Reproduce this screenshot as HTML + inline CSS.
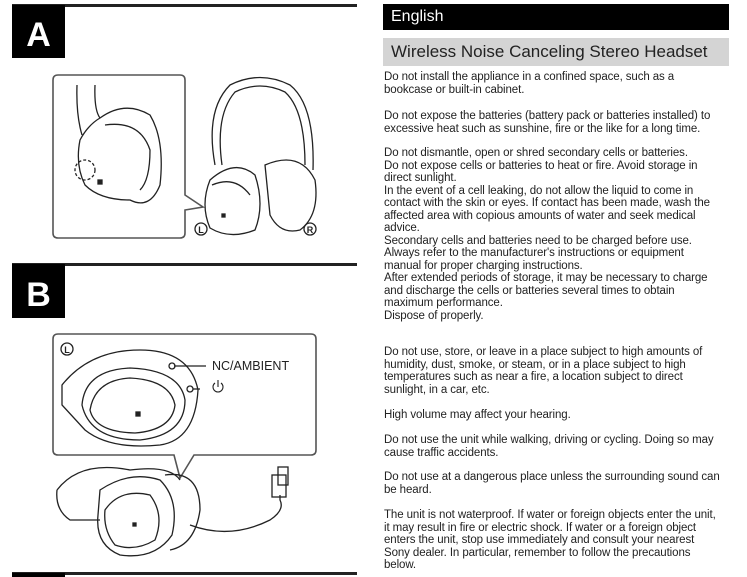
<!DOCTYPE html>
<html><head><meta charset="utf-8"><style>
body{margin:0;width:747px;height:577px;background:#fff;position:relative;overflow:hidden;font-family:"Liberation Sans",sans-serif}
.t{position:absolute;left:384px;font-size:11.5px;line-height:12px;color:#222;white-space:nowrap;letter-spacing:-0.1px}
</style></head><body>
<svg width="747" height="577" style="position:absolute;left:0;top:0" fill="none" stroke="#222" stroke-width="1.3">
<line x1="12" y1="5.5" x2="357" y2="5.5" stroke-width="3"/>
<rect x="12" y="5" width="53" height="53" fill="#000" stroke="none"/>
<text x="38.5" y="46" font-family="Liberation Sans" font-weight="bold" font-size="34" fill="#fff" stroke="none" text-anchor="middle">A</text>
<line x1="12" y1="264.5" x2="357" y2="264.5" stroke-width="3"/>
<rect x="12" y="264" width="53" height="54" fill="#000" stroke="none"/>
<text x="38.5" y="306" font-family="Liberation Sans" font-weight="bold" font-size="34" fill="#fff" stroke="none" text-anchor="middle">B</text>
<line x1="12" y1="573.5" x2="357" y2="573.5" stroke-width="3"/>
<rect x="12" y="573" width="53" height="6" fill="#000" stroke="none"/>
<path d="M58 75 H180 Q185 75 185 80 V195 L203 207 L185 210 V233 Q185 238 180 238 H58 Q53 238 53 233 V80 Q53 75 58 75Z" stroke="#555" stroke-width="1.6"/>
<path d="M77 85 Q76 115 82 135 M95 85 Q94 110 100 118"/>
<path d="M100 118 Q125 100 150 115 Q165 140 160 185 Q150 210 130 200 Q100 200 85 185 Q75 165 80 140 Q88 125 100 118Z"/>
<path d="M105 125 Q140 120 150 150 Q150 180 140 190"/>
<circle cx="85" cy="170" r="10" stroke-dasharray="3 2"/>
<rect x="98" y="180" width="4" height="4" fill="#222"/>
<path d="M215 165 Q205 110 230 85 Q260 70 290 85 Q315 105 313 170"/>
<path d="M222 165 Q215 115 235 92 Q260 80 285 92 Q305 110 305 165"/>
<path d="M265 165 Q300 150 315 180 Q320 215 300 230 Q280 235 270 215Z"/>
<path d="M210 180 Q235 158 255 175 Q265 205 255 230 Q230 240 210 228 Q200 205 210 180Z"/>
<path d="M212 185 Q235 175 250 195"/>
<rect x="222" y="214" width="3" height="3" fill="#222"/>
<circle cx="201" cy="229" r="6"/><text x="201" y="233" font-size="9" font-weight="bold" text-anchor="middle" fill="#222" stroke="none">L</text>
<circle cx="310" cy="229" r="6"/><text x="310" y="233" font-size="9" font-weight="bold" text-anchor="middle" fill="#222" stroke="none">R</text>
<path d="M58 334 H311 Q316 334 316 339 V450 Q316 455 311 455 H194 L180 478 L174 455 H58 Q53 455 53 450 V339 Q53 334 58 334Z" stroke="#555" stroke-width="1.6"/>
<circle cx="67" cy="349" r="6"/><text x="67" y="353" font-size="9" font-weight="bold" text-anchor="middle" fill="#222" stroke="none">L</text>
<path d="M62 385 Q90 350 140 350 Q190 350 198 390 Q195 440 160 445 Q110 450 85 430 L62 405Z"/>
<path d="M82 405 Q85 370 130 368 Q180 370 185 400 Q185 435 140 440 Q90 440 82 405Z"/>
<path d="M90 410 Q95 380 130 378 Q170 380 175 405 Q172 430 135 433 Q95 432 90 410Z"/>
<rect x="136" y="412" width="4" height="4" fill="#222"/>
<line x1="174" y1="366" x2="206" y2="366"/><circle cx="172" cy="366" r="3"/>
<circle cx="190" cy="389" r="3"/><line x1="193" y1="389" x2="200" y2="389"/>
<text x="212" y="370" font-size="12.5" fill="#222" stroke="none" font-family="Liberation Sans">NC/AMBIENT</text>
<path d="M215 383 A5 5 0 1 0 221 383 M218 380 V387" stroke-width="1.1"/>
<path d="M57 490 Q80 460 130 470 Q170 465 180 480 M57 490 Q55 510 70 520 L100 520"/>
<path d="M165 475 Q200 470 200 510 Q195 545 170 550"/>
<path d="M100 490 Q130 470 160 480 Q180 500 172 535 Q155 560 120 555 Q95 545 98 515Z"/>
<path d="M105 510 Q120 488 150 495 Q165 515 155 540 Q135 552 115 545 Q103 530 105 510Z"/>
<rect x="133" y="523" width="3" height="3" fill="#222"/>
<path d="M190 525 Q230 540 270 520 Q285 510 280 500 L280 495"/>
<rect x="272" y="475" width="14" height="22"/><rect x="278" y="467" width="10" height="18"/>
</svg>
<div style="position:absolute;left:383px;top:4px;width:346px;height:26px;background:#000;color:#fff;font-size:16px;line-height:26px;padding-left:8px;box-sizing:border-box">English</div>
<div style="position:absolute;left:383px;top:38px;width:346px;height:28px;background:#d4d4d4;color:#222;font-size:17px;line-height:28px;padding-left:8px;box-sizing:border-box">Wireless Noise Canceling Stereo Headset</div>
<div class="t" style="top:71px">Do not install the appliance in a confined space, such as a</div>
<div class="t" style="top:83.5px">bookcase or built-in cabinet.</div>
<div class="t" style="top:110px">Do not expose the batteries (battery pack or batteries installed) to</div>
<div class="t" style="top:122.5px">excessive heat such as sunshine, fire or the like for a long time.</div>
<div class="t" style="top:147px">Do not dismantle, open or shred secondary cells or batteries.</div>
<div class="t" style="top:159.5px">Do not expose cells or batteries to heat or fire. Avoid storage in</div>
<div class="t" style="top:172px">direct sunlight.</div>
<div class="t" style="top:184.5px">In the event of a cell leaking, do not allow the liquid to come in</div>
<div class="t" style="top:197px">contact with the skin or eyes. If contact has been made, wash the</div>
<div class="t" style="top:209.5px">affected area with copious amounts of water and seek medical</div>
<div class="t" style="top:222px">advice.</div>
<div class="t" style="top:234.5px">Secondary cells and batteries need to be charged before use.</div>
<div class="t" style="top:247px">Always refer to the manufacturer's instructions or equipment</div>
<div class="t" style="top:259.5px">manual for proper charging instructions.</div>
<div class="t" style="top:272px">After extended periods of storage, it may be necessary to charge</div>
<div class="t" style="top:284.5px">and discharge the cells or batteries several times to obtain</div>
<div class="t" style="top:297px">maximum performance.</div>
<div class="t" style="top:309.5px">Dispose of properly.</div>
<div class="t" style="top:346px">Do not use, store, or leave in a place subject to high amounts of</div>
<div class="t" style="top:358.5px">humidity, dust, smoke, or steam, or in a place subject to high</div>
<div class="t" style="top:371px">temperatures such as near a fire, a location subject to direct</div>
<div class="t" style="top:383.5px">sunlight, in a car, etc.</div>
<div class="t" style="top:409px">High volume may affect your hearing.</div>
<div class="t" style="top:434px">Do not use the unit while walking, driving or cycling. Doing so may</div>
<div class="t" style="top:446.5px">cause traffic accidents.</div>
<div class="t" style="top:471px">Do not use at a dangerous place unless the surrounding sound can</div>
<div class="t" style="top:483.5px">be heard.</div>
<div class="t" style="top:509px">The unit is not waterproof. If water or foreign objects enter the unit,</div>
<div class="t" style="top:521.5px">it may result in fire or electric shock. If water or a foreign object</div>
<div class="t" style="top:534px">enters the unit, stop use immediately and consult your nearest</div>
<div class="t" style="top:546.5px">Sony dealer. In particular, remember to follow the precautions</div>
<div class="t" style="top:559px">below.</div>
</body></html>
